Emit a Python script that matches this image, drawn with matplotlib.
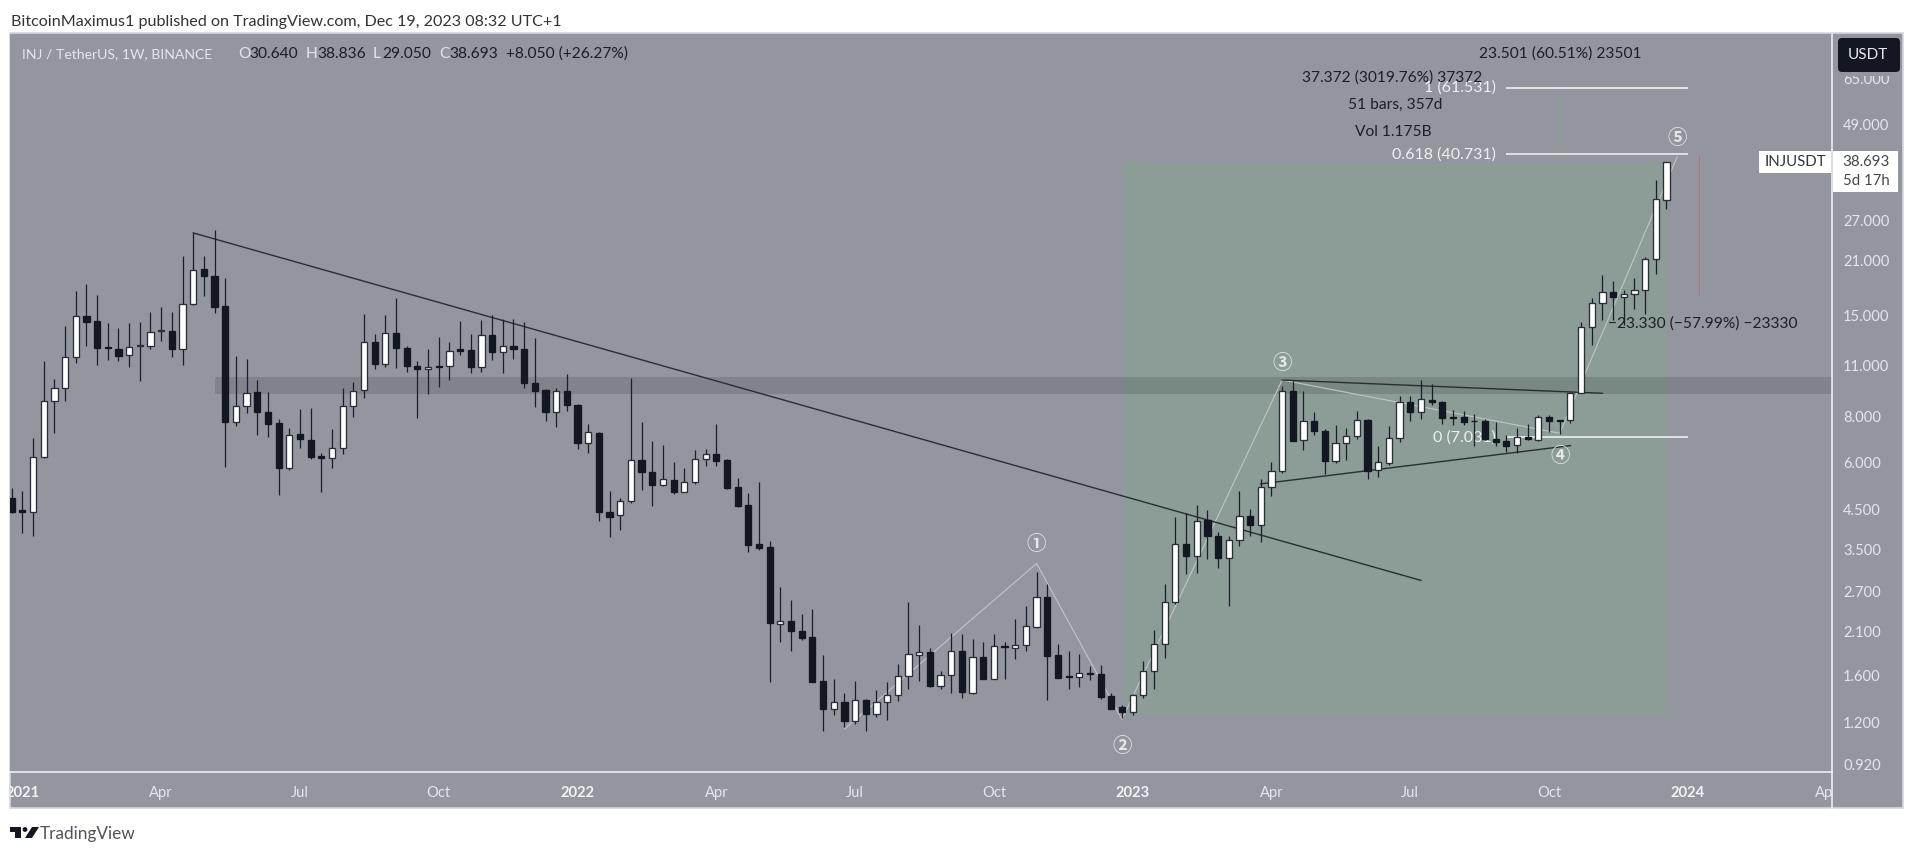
import matplotlib
matplotlib.use("Agg")
import matplotlib.pyplot as plt
from matplotlib.patches import Rectangle, FancyBboxPatch, Polygon, Circle
from matplotlib.transforms import Bbox
from matplotlib.ticker import FixedLocator, NullLocator, FixedFormatter
import numpy as np

W, H = 1911, 852
BG = "#93969f"; GREEN = "#8c9c96"; DARK = "#131722"; LIGHT = "#e4e6ea"; TXT = "#1c1f27"
FONT = "Lato"

highs = [5.12,5.02,6.98,11.28,10.06,14.0,17.4,18.2,16.96,14.3,
 13.81,14.3,14.37,15.26,15.74,15.26,21.65,24.97,21.65,25.5,
 18.9,11.62,11.4,10.0,9.29,7.87,7.46,8.37,8.42,6.39,
 7.38,9.55,9.9,15.07,13.37,14.96,16.7,12.37,11.28,12.13,
 13.1,12.67,14.46,13.3,14.55,14.96,14.64,14.64,14.33,13.0,
 9.46,9.52,10.4,8.63,7.63,7.24,5.02,4.81,10.12,7.73,
 6.87,6.69,6.02,5.79,6.48,6.52,7.63,6.13,5.46,4.98,
 5.32,3.68,2.77,2.56,2.35,2.42,1.82,1.57,1.434,1.55,
 1.385,1.46,1.537,1.72,2.52,2.19,1.90,1.65,2.09,2.07,
 2.01,1.97,2.07,1.97,2.28,2.47,3.05,2.82,1.95,1.865,
 1.83,1.70,1.71,1.44,1.335,1.43,1.755,2.12,2.83,4.28,
 4.39,4.61,4.46,3.90,3.81,5.03,4.51,5.41,6.03,9.68,
 9.97,9.36,8.2,7.38,7.59,7.46,8.27,7.87,6.66,7.53,
 9.07,9.07,10.0,9.79,8.81,8.32,8.27,8.13,7.87,7.73,
 7.12,7.46,7.63,8.09,8.09,7.82,9.31,14.4,16.64,19.2,
 18.5,17.57,18.9,21.45,34.7,38.836]
opens = [4.81,4.46,4.42,6.20,8.80,9.52,11.54,14.9,14.46,12.28,
 12.14,11.67,12.38,12.4,13.58,13.58,12.14,16.03,19.92,19.1,
 15.87,7.71,8.52,9.29,8.23,7.67,5.8,7.15,6.91,6.26,
 6.16,6.58,8.52,9.4,12.67,11.07,13.42,12.24,10.95,10.73,
 10.95,10.93,12.13,12.07,10.87,13.25,11.9,12.4,12.17,9.86,
 9.42,8.23,9.34,8.58,6.76,7.22,4.42,4.33,4.73,6.09,
 5.66,5.23,5.38,5.0,5.33,6.13,6.32,6.10,5.15,4.6,
 3.63,3.55,2.21,2.25,2.11,2.03,1.55,1.30,1.356,1.21,
 1.38,1.265,1.356,1.42,1.60,1.82,1.85,1.505,1.61,1.87,
 1.44,1.80,1.57,1.92,1.905,1.93,2.17,2.60,1.82,1.595,
 1.585,1.63,1.62,1.41,1.32,1.275,1.42,1.65,1.95,2.53,
 3.62,3.36,4.21,3.80,3.33,3.71,4.30,4.08,5.16,5.70,
 9.36,6.90,7.77,7.32,6.07,6.77,7.07,7.82,5.73,6.0,
 6.98,8.74,8.23,8.87,8.74,7.96,7.96,7.78,7.77,6.95,
 6.85,6.69,7.05,6.9,7.98,7.82,7.82,9.27,13.95,16.13,
 17.3,16.8,17.1,17.47,21.3,30.64]
closes = [4.43,4.43,6.20,8.80,9.52,11.54,14.9,14.4,12.22,12.2,
 11.65,12.31,12.42,13.5,13.63,12.14,16.03,19.88,19.1,15.8,
 7.71,8.52,9.27,8.23,7.64,5.8,7.13,6.94,6.23,6.16,
 6.58,8.52,9.38,12.67,11.07,13.42,12.22,10.93,10.73,10.88,
 10.87,11.97,12.02,10.87,13.24,11.92,12.4,12.13,9.84,9.38,
 8.23,9.34,8.56,6.76,7.27,4.41,4.29,4.74,6.09,5.65,
 5.23,5.41,4.99,5.33,6.13,6.32,6.06,5.12,4.58,3.61,
 3.54,2.22,2.25,2.11,2.02,1.54,1.30,1.356,1.208,1.38,
 1.265,1.356,1.42,1.60,1.83,1.85,1.50,1.61,1.87,1.45,
 1.80,1.57,1.92,1.91,1.93,2.18,2.60,1.81,1.58,1.585,
 1.63,1.62,1.40,1.305,1.275,1.42,1.65,1.95,2.53,3.62,
 3.36,4.18,3.80,3.33,3.72,4.30,4.07,5.16,5.70,9.36,
 6.88,7.77,7.30,6.07,6.77,7.08,7.82,5.71,6.02,7.0,
 8.74,8.23,8.9,8.72,7.92,7.9,7.71,7.75,6.94,6.82,
 6.67,7.03,6.94,7.98,7.75,7.75,9.27,13.95,16.13,17.3,
 16.8,17.1,17.47,21.3,30.75,38.693]
lows = [4.39,3.88,3.80,6.18,7.20,8.81,11.12,12.37,11.0,11.35,
 11.28,10.84,9.96,12.13,12.8,11.58,11.0,15.93,16.88,15.17,
 5.84,7.53,8.18,7.12,7.03,4.92,5.73,6.56,6.15,4.99,
 5.79,6.32,7.95,8.94,10.7,10.84,10.77,10.55,7.9,9.2,
 9.62,10.0,11.72,10.48,10.55,11.35,10.48,11.42,9.55,8.49,
 7.78,7.5,8.28,6.53,6.37,4.17,3.78,3.94,4.66,5.07,
 4.58,5.2,4.93,4.99,5.26,5.87,5.87,5.11,4.57,3.44,
 3.49,1.54,1.97,1.87,2.0,1.535,1.137,1.25,1.166,1.185,
 1.133,1.24,1.215,1.367,1.47,1.55,1.49,1.47,1.44,1.395,
 1.43,1.565,1.565,1.57,1.77,1.87,2.15,1.376,1.575,1.47,
 1.49,1.557,1.385,1.30,1.23,1.255,1.39,1.47,1.79,2.50,
 3.01,3.03,3.30,3.12,2.46,3.58,3.80,3.66,4.88,5.62,
 6.85,6.48,7.12,5.6,5.99,6.10,6.97,5.43,5.49,5.91,
 6.84,7.78,7.85,8.6,7.64,7.59,7.59,6.66,6.91,6.66,
 6.42,6.39,6.91,6.88,7.24,7.18,7.66,9.25,12.45,14.55,
 14.55,14.1,15.6,15.05,19.3,29.05]

price_ticks = [0.92,1.2,1.6,2.1,2.7,3.5,4.5,6,8,11,15,21,27,49,65]
time_ticks = [1,14,27,40,53,66,79,92,105,118,131,144,157,170]
time_labels = ["2021","Apr","Jul","Oct","2022","Apr","Jul","Oct","2023","Apr","Jul","Oct","2024","Apr"]
year_labels = {"2021","2022","2023","2024"}

long_trend_x = [17,132];  long_trend_y = [24.97,2.89]
upper_tri_x = [119,149];  upper_tri_y = [10.02,9.23]
lower_tri_x = [117,146];  lower_tri_y = [5.26,6.67]
wave_x = [78,96,104,119,145,156]
wave_y = [1.149,3.21,1.22,10.02,7.2,40.0]
wave_labels = ["①","②","③","④","⑤"]
wave_label_x = [96,104,119,145,156]
wave_label_y = [3.60,1.033,11.09,6.23,44.8]
fib_levels = [61.531,40.731,7.031]
fib_names = ["1 (61.531)","0.618 (40.731)","0 (7.031)"]
band_prices = (9.2,10.21)
long_box_prices = (1.25,38.693)

def fx(x): return x/W
def fy(y): return 1-y/H

fig = plt.figure(figsize=(W/100,H/100),dpi=100,facecolor="white")
fig.patches.append(Rectangle((fx(10),fy(808)),(1903-10)/W,(808-33)/H,transform=fig.transFigure,
    facecolor=BG,edgecolor="#d6d7dc",lw=1.2,zorder=0))
ax = fig.add_axes([fx(10),fy(772),(1832-10)/W,(772-34)/H],facecolor=BG,zorder=1)
ax.set_xlim((10-11.7)/10.676,(1832-11.7)/10.676)
ax.set_yscale("log")
ax.set_ylim(0.880,85.8)
for s in ["top","left"]: ax.spines[s].set_visible(False)
for s in ["right","bottom"]:
    ax.spines[s].set_color("#f4f4f6"); ax.spines[s].set_linewidth(1.1)
ax.yaxis.tick_right()
ax.yaxis.set_major_locator(FixedLocator(price_ticks))
ax.yaxis.set_major_formatter(FixedFormatter(["%.3f"%p for p in price_ticks]))
ax.yaxis.set_minor_locator(NullLocator())
ax.tick_params(axis="y",length=0,pad=8,labelsize=10.6,labelcolor=LIGHT)
ax.set_xticks(time_ticks,time_labels)
ax.tick_params(axis="x",length=0,pad=10,labelsize=10.6,labelcolor=LIGHT)
clip = Bbox([[10,0],[1832,H]])
for lab in ax.get_xticklabels():
    lab.set_clip_on(True); lab.set_clip_box(clip)
    if lab.get_text() in year_labels:
        lab.set_fontweight("bold"); lab.set_color("#f3f3f5")
for lab in ax.get_xticklabels()+ax.get_yticklabels():
    lab.set_fontfamily(FONT)

ax.add_patch(Rectangle((104,long_box_prices[0]),51,long_box_prices[1]-long_box_prices[0],
    facecolor=GREEN,edgecolor="none",zorder=0.5))
ax.add_patch(Rectangle((19,band_prices[0]),152,band_prices[1]-band_prices[0],
    facecolor="black",alpha=0.125,edgecolor="none",zorder=0.6))

ax.plot(wave_x,wave_y,color="#bfc3c3",lw=0.85,zorder=1.5)
ax.plot(long_trend_x,long_trend_y,color="#2a2e33",lw=1.0,zorder=2)
ax.plot(upper_tri_x,upper_tri_y,color="#2a2e33",lw=1.0,zorder=2)
ax.plot(lower_tri_x,lower_tri_y,color="#2a2e33",lw=1.0,zorder=2)
ax.hlines(fib_levels,140,157,color="#eef0ee",lw=1.2,zorder=1.7)
ax.vlines(145,40.731,61.531,color="#7da585",lw=0.7,zorder=1.4)
ax.vlines(158,16.96,40.5,color="#b0707c",lw=0.7,zorder=1.4)
for lv,nm in zip(fib_levels,fib_names):
    ax.text(139.0,lv,nm,ha="right",va="center",color="#eef0ee",fontsize=11.5,family=FONT,zorder=1.8)
for x,y,t in zip(wave_label_x,wave_label_y,wave_labels):
    ax.text(x,y,t,ha="center",va="center",fontsize=14,color="#e6e8e8",fontweight="bold",
            family=["Noto Sans CJK SC","DejaVu Sans"],zorder=2.5)

idx = np.arange(len(opens))
o,c,h,l = map(np.array,(opens,closes,highs,lows))
up = c>=o
ax.vlines(idx,l,h,color="#1a1e29",lw=0.9,zorder=3)
ax.bar(idx[up],(c-o)[up],bottom=o[up],width=0.58,color="white",edgecolor="#2a2e39",lw=0.95,zorder=3.2)
ax.bar(idx[~up],(o-c)[~up],bottom=c[~up],width=0.58,color=DARK,edgecolor=DARK,lw=0.95,zorder=3.2)

def T(x,y,s,color=TXT,ha="left",size=11.2,**k):
    return fig.text(fx(x),fy(y),s,color=color,ha=ha,va="center",fontsize=size,family=FONT,zorder=10,**k)
T(1479,54,"23.501 (60.51%) 23501")
T(1482,78,"37.372 (3019.76%) 37372",ha="right")
T(1442,105,"51 bars, 357d",ha="right")
T(1432,132,"Vol 1.175B",ha="right")
T(1608,324,"−23.330 (−57.99%) −23330")

T(22,54,"INJ / TetherUS, 1W, BINANCE",color=LIGHT,size=10.1)
for lx,vx,lb,val in [(238,249,"O","30.640"),(306,317,"H","38.836"),(373,382,"L","29.050"),(439,449,"C","38.693")]:
    T(lx,54,lb,color=LIGHT); T(vx,54,val)
T(506,54,"+8.050 (+26.27%)")

T(11,22,"BitcoinMaximus1 published on TradingView.com, Dec 19, 2023 08:32 UTC+1",color="#30333b",size=11.6)
T(40,834,"TradingView",color="#50535e",size=12.4)
fig.patches.append(Rectangle((fx(1833),fy(76)),68/W,42/H,transform=fig.transFigure,facecolor=BG,edgecolor="none",zorder=5))
fig.patches.append(FancyBboxPatch((1840,H-70),58,30,boxstyle="round,pad=2,rounding_size=4",transform=None,
    facecolor=DARK,edgecolor="none",zorder=6))
T(1868,55,"USDT",color=LIGHT,ha="center",size=11)
fig.patches.append(Rectangle((fx(1759),fy(173)),72/W,22/H,transform=fig.transFigure,facecolor="white",edgecolor="none",zorder=6))
T(1795,162,"INJUSDT",color="#30333b",ha="center",size=10.8)
fig.patches.append(Rectangle((fx(1833),fy(192)),65/W,41/H,transform=fig.transFigure,facecolor="white",edgecolor="none",zorder=6))
T(1866,162,"38.693",color="#43464f",ha="center",size=10.8)
T(1866,181,"5d 17h",color="#43464f",ha="center",size=10.8)

def poly(pts):
    fig.patches.append(Polygon([(x,H-y) for x,y in pts],closed=True,transform=None,facecolor=DARK,edgecolor="none",zorder=6))
poly([(10,827),(21,827),(21,838),(15,838),(15,832),(10,832)])
fig.patches.append(Circle((25,H-829.5),2.4,transform=None,facecolor=DARK,edgecolor="none",zorder=6))
poly([(32,827),(39,827),(32,838),(25,838)])
fig.add_artist(plt.Line2D([fx(1832),fx(1832)],[fy(808),fy(772)],color="#f4f4f6",lw=1.1))

fig.savefig("out.png",dpi=100,facecolor="white")
